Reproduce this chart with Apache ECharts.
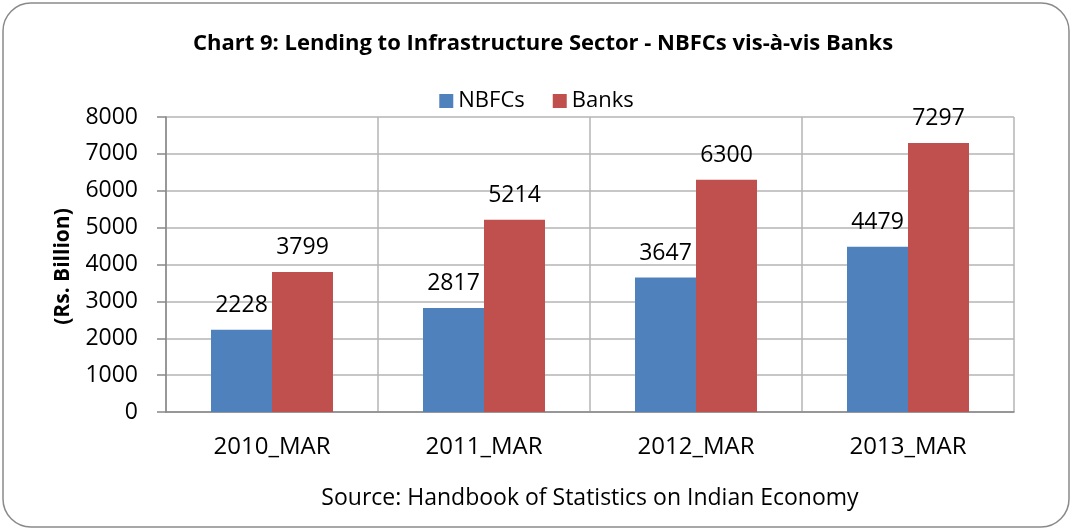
<!DOCTYPE html>
<html><head><meta charset="utf-8">
<script src="https://cdn.jsdelivr.net/npm/echarts@6/dist/echarts.min.js"></script>
<style>html,body{margin:0;padding:0;background:#fff}#c{width:1073px;height:531px}</style>
</head><body><div id="c"></div>
<script>
const categories = ['2010_MAR','2011_MAR','2012_MAR','2013_MAR'];
const nbfcs = [2228, 2817, 3647, 4479];
const banks = [3799, 5214, 6300, 7297];
const yTicks = [0,1000,2000,3000,4000,5000,6000,7000,8000];

const F = '"Open Sans", sans-serif';
const FS = 23;
const chart = echarts.init(document.getElementById('c'));
const lbl = {show:true, position:'top', distance:13, fontSize:FS, color:'#000', fontFamily:F};
chart.setOption({
  animation:false,
  title:{text:'Chart 9: Lending to Infrastructure Sector - NBFCs vis-à-vis Banks', left:538, textAlign:'center', top:28,
    textStyle:{fontSize:22, fontWeight:'bold', fontFamily:F, color:'#000'}},
  legend:{data:['NBFCs','Banks'], top:85, left:'center', itemWidth:14, itemHeight:14, itemGap:28,
    textStyle:{fontSize:22, fontFamily:F, color:'#000', padding:[0,0,0,0]}, icon:'rect'},
  grid:{left:166, right:59, top:117, bottom:119, containLabel:false},
  xAxis:{type:'category', data:categories,
    axisLine:{lineStyle:{color:'#888', width:1.5}}, axisTick:{show:false},
    splitLine:{show:true, lineStyle:{color:'#b4b4b4', width:1.5}},
    axisLabel:{fontSize:24, fontFamily:F, color:'#000', margin:23}},
  yAxis:{type:'value', min:0, max:8000, interval:1000,
    name:'(Rs. Billion)', nameLocation:'middle', nameGap:92, nameRotate:90,
    nameTextStyle:{fontSize:21, fontWeight:'bold', fontFamily:F, color:'#000', padding:[0,4,0,0]},
    axisLine:{show:true, lineStyle:{color:'#888', width:1.5}},
    axisTick:{show:true, length:9, inside:false, lineStyle:{color:'#888', width:1.5}},
    splitLine:{lineStyle:{color:'#b4b4b4', width:1.5}},
    axisLabel:{fontSize:FS, fontFamily:F, color:'#000', margin:28,
      formatter:v=> yTicks.includes(v)? String(v):''}},
  series:[
    {name:'NBFCs', type:'bar', data:nbfcs, barWidth:61, barGap:'0%', itemStyle:{color:'#4f81bd'}, label:lbl},
    {name:'Banks', type:'bar', data:banks, barWidth:61, itemStyle:{color:'#c0504d'}, label:lbl}
  ],
  graphic:[{type:'rect', shape:{x:3,y:3,width:1066,height:524,r:28}, style:{fill:'none', stroke:'#8a8a8a', lineWidth:1.5}, z:-1},
    {type:'text', x:590, y:487, style:{text:'Source: Handbook of Statistics on Indian Economy', align:'center', fontSize:FS, fontFamily:F, fill:'#000'}}]
});
</script></body></html>
